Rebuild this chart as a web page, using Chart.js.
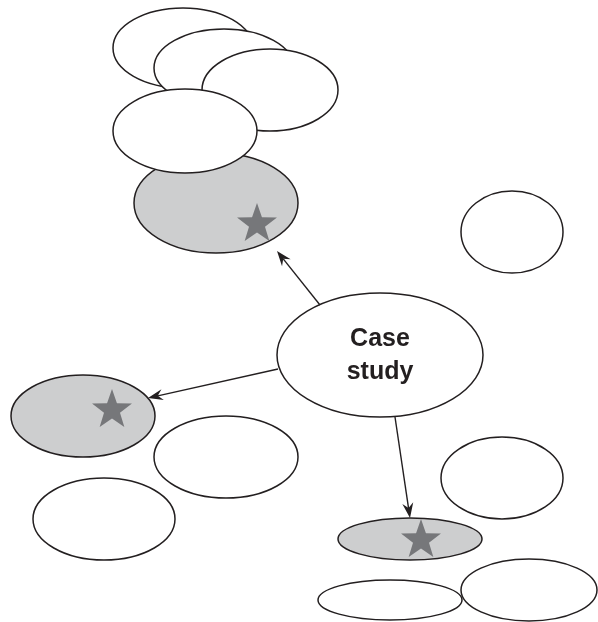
<!DOCTYPE html>
<html>
<head>
<meta charset="utf-8">
<script src="https://cdn.jsdelivr.net/npm/chart.js@4"></script>
<style>
  html, body { margin: 0; padding: 0; background: #fff; }
  #wrap { width: 598px; height: 622px; }
</style>
</head>
<body>
<div id="wrap"><canvas id="chart1" width="598" height="622"></canvas></div>
<script>
// ellipses, in draw order (later ones sit on top)
const ellipseX  = [183, 224, 270, 216, 185, 512, 380, 83, 226, 104, 502, 410, 390, 529];
const ellipseY  = [48, 68, 90, 203, 131, 232, 355, 416, 457, 519, 478, 539, 600, 590];
const ellipseRx = [70, 70, 68, 82, 72, 51, 103, 72, 72, 71, 61, 72, 72, 68];
const ellipseRy = [40, 39, 41, 50, 42, 41, 62, 41, 41, 41, 41, 21, 20, 31];
const ellipseGray = [false, false, false, true, false, false, false, true, false, false, false, true, false, false];

// stars in the grey ellipses
const starX = [257, 112, 421];
const starY = [222, 408, 538];

// arrows from the central ellipse
const arrowFromX = [320, 278, 395];
const arrowFromY = [305, 369, 417];
const arrowToX = [277, 148, 410];
const arrowToY = [251, 398, 518];

const centerLabel = ['Case', 'study'];
const centerIndex = 6;

let makeStar = function(R) {
    let c = document.createElement('canvas');
    c.width = R * 2 + 2;
    c.height = R * 2 + 2;
    let ctx = c.getContext('2d');
    let r = R * 0.4;
    ctx.beginPath();
    for (let i = 0; i < 10; i++) {
        let a = -Math.PI / 2 + i * Math.PI / 5;
        let rr = i % 2 === 0 ? R : r;
        let px = R + 1 + rr * Math.cos(a);
        let py = R + 1 + rr * Math.sin(a) + R * 0.1;
        if (i === 0) ctx.moveTo(px, py); else ctx.lineTo(px, py);
    }
    ctx.closePath();
    ctx.fillStyle = '#76777a';
    ctx.fill();
    return c;
};

const ellipsePlugin = {
    id: 'ellipses',
    beforeDatasetsDraw(chart) {
        const ctx = chart.ctx;
        const xs = chart.scales.x, ys = chart.scales.y;
        ctx.save();
        ellipseX.forEach((cx, i) => {
            let px = xs.getPixelForValue(cx);
            let py = ys.getPixelForValue(ellipseY[i]);
            let rx = Math.abs(xs.getPixelForValue(cx + ellipseRx[i]) - px);
            let ry = Math.abs(ys.getPixelForValue(ellipseY[i] + ellipseRy[i]) - py);
            ctx.beginPath();
            ctx.ellipse(px, py, rx, ry, 0, 0, Math.PI * 2);
            ctx.fillStyle = ellipseGray[i] ? '#cdcecf' : '#ffffff';
            ctx.fill();
            ctx.lineWidth = 1.5;
            ctx.strokeStyle = '#231f20';
            ctx.stroke();
        });
        ctx.restore();
    },
    afterDatasetsDraw(chart) {
        const ctx = chart.ctx;
        const xs = chart.scales.x, ys = chart.scales.y;
        ctx.save();
        ctx.strokeStyle = '#231f20';
        ctx.fillStyle = '#231f20';
        ctx.lineWidth = 1.4;
        arrowFromX.forEach((fx, i) => {
            let x1 = xs.getPixelForValue(fx), y1 = ys.getPixelForValue(arrowFromY[i]);
            let x2 = xs.getPixelForValue(arrowToX[i]), y2 = ys.getPixelForValue(arrowToY[i]);
            let ang = Math.atan2(y2 - y1, x2 - x1);
            let len = 15, half = 5.5, notch = 10;
            ctx.beginPath();
            ctx.moveTo(x1, y1);
            ctx.lineTo(x2 - notch * Math.cos(ang), y2 - notch * Math.sin(ang));
            ctx.stroke();
            ctx.beginPath();
            ctx.moveTo(x2, y2);
            ctx.lineTo(x2 - len * Math.cos(ang) + half * Math.sin(ang), y2 - len * Math.sin(ang) - half * Math.cos(ang));
            ctx.lineTo(x2 - notch * Math.cos(ang), y2 - notch * Math.sin(ang));
            ctx.lineTo(x2 - len * Math.cos(ang) - half * Math.sin(ang), y2 - len * Math.sin(ang) + half * Math.cos(ang));
            ctx.closePath();
            ctx.fill();
        });
        // label in the central ellipse
        let cx = xs.getPixelForValue(ellipseX[centerIndex]);
        let cy = ys.getPixelForValue(ellipseY[centerIndex]);
        ctx.font = 'bold 25px "Liberation Sans", Arial, sans-serif';
        ctx.textAlign = 'center';
        ctx.textBaseline = 'middle';
        ctx.fillText(centerLabel[0], cx, cy - 16);
        ctx.fillText(centerLabel[1], cx, cy + 17);
        ctx.restore();
    }
};

const data_stars = {
  datasets: [{
    label: 'stars',
    data: starX.map((x, i) => ({ x: x, y: starY[i] })),
    pointStyle: makeStar(21),
    pointRadius: 21,
    showLine: false
  }]
};

const config = {
  type: 'scatter',
  data: data_stars,
  options: {
    responsive: false,
    animation: false,
    layout: { padding: 0, autoPadding: false },
    plugins: { legend: { display: false }, tooltip: { enabled: false } },
    scales: {
      x: { display: false, min: 0, max: 598 },
      y: { display: false, min: 0, max: 622, reverse: true }
    }
  },
  plugins: [ellipsePlugin]
};

const chart1 = new Chart(document.getElementById('chart1'), config);
</script>
</body>
</html>
